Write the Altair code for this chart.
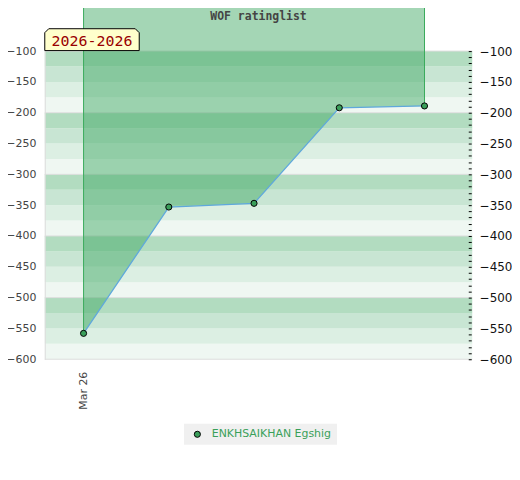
import altair as alt
import pandas as pd

# ---- data ----
idx = [0, 1, 2, 3, 4]
ratings = [-558, -353, -347, -192, -189]
player = "ENKHSAIKHAN Egshig"
x_tick_values = [0]
x_tick_labels = ["Mar 26"]
title_text = "WOF ratinglist"
period_label = "2026-2026"

band_starts = list(range(-600, -100, 25))
band_colors = ["#b2dcc0", "#c8e5d3", "#dcefe3", "#eff7f2"]
grid_values = [-100, -200, -300, -400, -500, -600]

df = pd.DataFrame({"i": idx, "rating": ratings, "name": [player] * len(idx), "top": [0] * len(idx)})
ends = df.iloc[[0, -1]]
bands = pd.DataFrame({
    "y": band_starts,
    "y2": [s + 25 for s in band_starts],
    "c": [band_colors[int(((-100 - (s + 25)) // 25) % 4)] for s in band_starts],
})
grid = pd.DataFrame({"g": grid_values})
lab = pd.DataFrame({"t": [period_label]})
ttl = pd.DataFrame({"t": [title_text]})

xs = alt.Scale(domain=[-0.455, 4.56], nice=False, zero=False)
ys = alt.Scale(domain=[-600, -100], nice=False, zero=False)

band_layer = alt.Chart(bands).mark_rect().encode(
    y=alt.Y("y:Q", scale=ys, axis=alt.Axis(
        orient="left", values=list(range(-600, -99, 50)), ticks=False, grid=False,
        domain=True, domainColor="#dddddd", labelPadding=9, labelFont="DejaVu Sans",
        labelFontSize=11, labelColor="#444444", title=None, zindex=1)),
    y2="y2:Q",
    color=alt.Color("c:N", scale=None),
)

grid_layer = alt.Chart(grid).mark_rule(color="#dddddd", strokeWidth=1).encode(
    y=alt.Y("g:Q", scale=ys, axis=alt.Axis(
        orient="right", values=list(range(-600, -99, 10)),
        labelExpr="datum.value % 50 === 0 ? datum.label : ''",
        tickSize=3, tickColor="#000000", offset=-4, domain=False, grid=False,
        labelPadding=8, labelFont="DejaVu Sans", labelFontSize=12,
        labelColor="#111111", title=None, zindex=2)),
)

area_layer = alt.Chart(df).mark_area(color="#3ea761", opacity=0.47, clip=False).encode(
    x=alt.X("i:Q", scale=xs, axis=alt.Axis(
        values=x_tick_values, labelExpr="'" + x_tick_labels[0] + "'", labelAngle=270,
        ticks=False, domain=False, grid=False, labelPadding=12, labelFont="DejaVu Sans",
        labelFontSize=11, labelColor="#444444", title=None)),
    y=alt.Y("rating:Q", scale=ys, axis=None),
    y2="top:Q",
)

rule_layer = alt.Chart(ends).mark_rule(color="#3aaa5c", strokeWidth=1, clip=False).encode(
    x=alt.X("i:Q", scale=xs, axis=None),
    y=alt.Y("rating:Q", scale=ys, axis=None),
    y2="top:Q",
)

line_layer = alt.Chart(df).mark_line(color="#5fa8dc", strokeWidth=1.3).encode(
    x=alt.X("i:Q", scale=xs, axis=None),
    y=alt.Y("rating:Q", scale=ys, axis=None),
)

point_layer = alt.Chart(df).mark_point(filled=True, size=38, stroke="#000000", strokeWidth=1, opacity=1).encode(
    x=alt.X("i:Q", scale=xs, axis=None),
    y=alt.Y("rating:Q", scale=ys, axis=None),
    color=alt.Color("name:N", scale=alt.Scale(range=["#3a9e5a"]), legend=alt.Legend(
        orient="none", legendX=140, legendY=375, direction="horizontal",
        fillColor="#f0f0f0", padding=5, title=None, symbolType="circle",
        symbolSize=38, symbolStrokeColor="#000000", symbolStrokeWidth=1,
        symbolOffset=3, labelOffset=9,
        labelColor="#3aa05a", labelFont="DejaVu Sans", labelFontSize=11)),
)

box_path = "M -1 0.2316 L -1 -0.1474 L -0.916 -0.2316 L 0.916 -0.2316 L 1 -0.1474 L 1 0.2316 Z"
box_layer = alt.Chart(lab).mark_point(
    shape=box_path, size=9025, filled=True, fill="#ffffcc", stroke="#000000",
    strokeWidth=1, opacity=1, clip=False
).encode(x=alt.value(47.5), y=alt.value(-11.5))

text_layer = alt.Chart(lab).mark_text(
    font="DejaVu Sans Mono", fontSize=15, color="#990000", align="center",
    baseline="middle", clip=False
).encode(x=alt.value(47.5), y=alt.value(-10.5), text="t:N")

title_layer = alt.Chart(ttl).mark_text(
    font="DejaVu Sans Mono", fontSize=11.5, fontWeight="bold", color="#444444",
    align="center", baseline="middle", clip=False
).encode(x=alt.value(215), y=alt.value(-34), text="t:N")

chart = alt.layer(
    band_layer, grid_layer, area_layer, rule_layer, line_layer, point_layer,
    box_layer, text_layer, title_layer
).resolve_scale(
    x="shared", y="shared"
).resolve_axis(
    x="independent", y="independent"
).properties(
    width=430, height=310,
    padding={"left": 37, "top": 42, "right": 40, "bottom": 100},
    autosize="none",
).configure_view(stroke=None)

chart.save("out.html", embed_options={"renderer": "svg", "actions": False})
